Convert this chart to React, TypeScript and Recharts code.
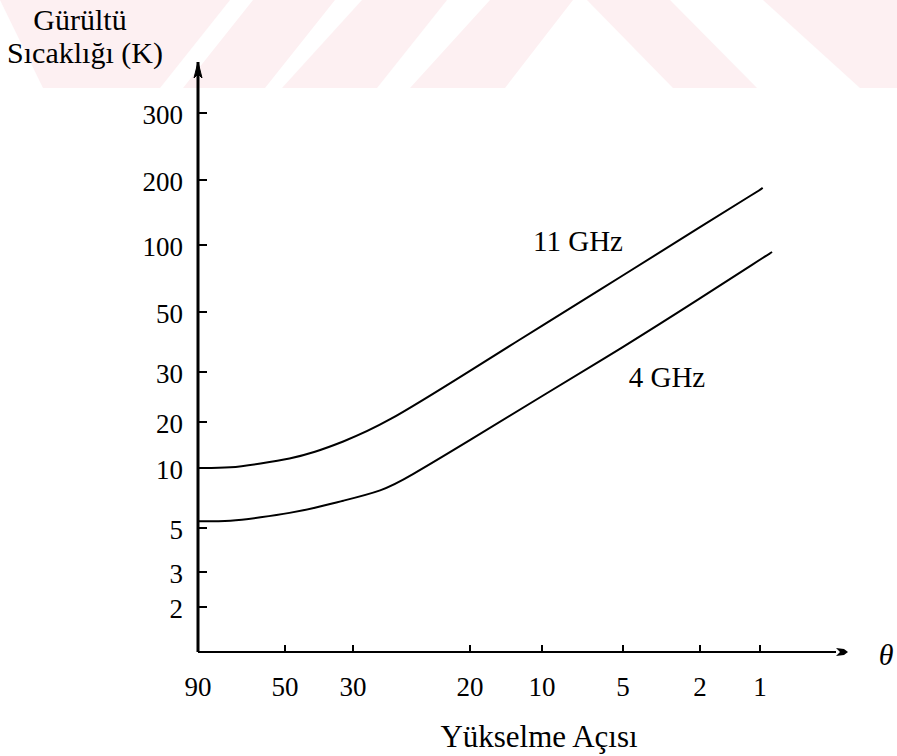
import React from "react";
import {
  LineChart,
  Line,
  XAxis,
  YAxis,
  ReferenceDot,
  Customized,
} from "recharts";

// elevation angle (deg) and noise temperature (K)
const angles11 = [90, 72, 59, 48, 40, 33, 27, 20, 10, 5, 2, 1, 0.97];
const temp11 = [10, 10, 10.7, 11.5, 12.7, 14.6, 19.1, 30.3, 44.5, 73, 121, 180, 184];

const angles4 = [90, 72, 59, 48, 40, 33, 27, 24.9, 20, 10, 5, 2, 1, 0.87];
const temp4 = [5.4, 5.4, 5.65, 5.95, 6.3, 6.8, 7.7, 8.9, 15.2, 24.7, 37, 57.5, 86, 93];

// hand-drawn axes: tick labels and where they sit along each axis (axis units)
const xTickLabels = [90, 50, 30, 20, 10, 5, 2, 1];
const xTickUnits = [0, 87, 155, 272, 344, 425, 502, 562];
const yTickLabels = [2, 3, 5, 10, 20, 30, 50, 100, 200, 300];
const yTickUnits = [45, 80, 124, 184, 230, 280, 340, 407, 472, 539];

const X_MAX = 650;
const Y_MAX = 590;
const FONT = '"Liberation Serif", "DejaVu Serif", serif';

// piecewise log interpolation between labelled ticks (extrapolates past the ends)
function toUnits(v: number, labels: number[], units: number[]) {
  const lv = Math.log10(v);
  let i = 0;
  while (i < labels.length - 2) {
    const a = Math.log10(labels[i]);
    const b = Math.log10(labels[i + 1]);
    if ((lv - a) * (lv - b) <= 0) break;
    i++;
  }
  const a = Math.log10(labels[i]);
  const b = Math.log10(labels[i + 1]);
  const t = (lv - a) / (b - a);
  return units[i] + t * (units[i + 1] - units[i]);
}

const data11 = angles11.map((a, i) => ({
  x: toUnits(a, xTickLabels, xTickUnits),
  y: toUnits(temp11[i], yTickLabels, yTickUnits),
}));
const data4 = angles4.map((a, i) => ({
  x: toUnits(a, xTickLabels, xTickUnits),
  y: toUnits(temp4[i], yTickLabels, yTickUnits),
}));

const YTick = (props: any) => {
  const { x, y, payload } = props;
  const label = yTickLabels[yTickUnits.indexOf(payload.value)];
  return (
    <g>
      <line x1={x} x2={x + 9} y1={y} y2={y} stroke="#000" strokeWidth={2} />
      <text
        x={x - 15}
        y={y + 2}
        textAnchor="end"
        dominantBaseline="central"
        fontSize={27}
        fontFamily={FONT}
        fill="#000"
      >
        {label}
      </text>
    </g>
  );
};

const XTick = (props: any) => {
  const { x, y, payload } = props;
  const label = xTickLabels[xTickUnits.indexOf(payload.value)];
  return (
    <g>
      <line x1={x} x2={x} y1={y} y2={y - 7} stroke="#000" strokeWidth={2} />
      <text
        x={x}
        y={y + 35}
        textAnchor="middle"
        dominantBaseline="central"
        fontSize={27}
        fontFamily={FONT}
        fill="#000"
      >
        {label}
      </text>
    </g>
  );
};

const UpArrow = (p: any) => (
  <path
    d={`M${p.cx},${p.cy} L${p.cx - 4},${p.cy + 16} L${p.cx},${p.cy + 12} L${p.cx + 4},${p.cy + 16} Z`}
    fill="#000"
    stroke="#000"
    strokeWidth={1}
  />
);

const RightArrow = (p: any) => (
  <g>
    <rect x={p.cx - 24} y={p.cy - 2} width={26} height={4} fill="#fff" />
    <line x1={p.cx - 24} x2={p.cx - 12} y1={p.cy} y2={p.cy} stroke="#000" strokeWidth={2} />
    <path
      d={`M${p.cx - 12},${p.cy - 4} L${p.cx - 4},${p.cy - 3} L${p.cx},${p.cy} L${p.cx - 4},${p.cy + 3} L${p.cx - 12},${p.cy + 4} L${p.cx - 8},${p.cy} Z`}
      fill="#000"
    />
  </g>
);

const curveLabel = (text: string) => (p: any) => (
  <text
    x={p.cx}
    y={p.cy}
    textAnchor="middle"
    dominantBaseline="central"
    fontSize={29}
    fontFamily={FONT}
    fill="#000"
  >
    {text}
  </text>
);

const Titles = () => (
  <g fontFamily={FONT} fill="#000">
    <text x={80} y={19} textAnchor="middle" dominantBaseline="central" fontSize={30}>
      Gürültü
    </text>
    <text x={85} y={52} textAnchor="middle" dominantBaseline="central" fontSize={30}>
      Sıcaklığı (K)
    </text>
    <text x={539} y={736} textAnchor="middle" dominantBaseline="central" fontSize={31}>
      Yükselme Açısı
    </text>
    <text x={886} y={654} textAnchor="middle" dominantBaseline="central" fontSize={30} fontStyle="italic">
      θ
    </text>
  </g>
);

// faint pink watermark band at the top of the scan
const watermark = [
  "0,0 230,0 160,88 43,88",
  "253,0 335,0 265,88 183,88",
  "362,0 447,0 377,88 282,88",
  "490,0 573,0 505,88 410,88",
  "587,0 670,0 757,88 673,88",
  "763,0 897,0 897,88 860,88",
];

export default function App() {
  return (
    <div style={{ position: "absolute", left: 0, top: 0, width: 897, height: 756, background: "#fff" }}>
      <svg width={897} height={756} style={{ position: "absolute", left: 0, top: 0 }}>
        {watermark.map((pts, i) => (
          <polygon key={i} points={pts} fill="#fdf0f2" />
        ))}
      </svg>
      <div style={{ position: "absolute", left: 0, top: 0 }}>
        <LineChart
          width={897}
          height={756}
          margin={{ top: 62, right: 49, bottom: 64, left: 138 }}
          style={{ fontFamily: FONT }}
        >
          <XAxis
            type="number"
            dataKey="x"
            domain={[0, X_MAX]}
            allowDataOverflow
            ticks={xTickUnits}
            interval={0}
            height={40}
            tickSize={0}
            tickMargin={0}
            tickLine={false}
            tick={<XTick />}
            axisLine={{ stroke: "#000", strokeWidth: 2 }}
          />
          <YAxis
            type="number"
            dataKey="y"
            domain={[0, Y_MAX]}
            allowDataOverflow
            ticks={yTickUnits}
            interval={0}
            width={60}
            tickSize={0}
            tickMargin={0}
            tickLine={false}
            tick={<YTick />}
            axisLine={{ stroke: "#000", strokeWidth: 3 }}
          />
          <Line
            data={data11}
            dataKey="y"
            type="basis"
            stroke="#000"
            strokeWidth={2}
            dot={false}
            isAnimationActive={false}
          />
          <Line
            data={data4}
            dataKey="y"
            type="basis"
            stroke="#000"
            strokeWidth={2}
            dot={false}
            isAnimationActive={false}
          />
          <ReferenceDot x={380} y={411} r={0} ifOverflow="visible" shape={curveLabel("11 GHz")} />
          <ReferenceDot x={469} y={275} r={0} ifOverflow="visible" shape={curveLabel("4 GHz")} />
          <ReferenceDot x={0} y={Y_MAX} r={0} ifOverflow="visible" shape={UpArrow} />
          <ReferenceDot x={X_MAX} y={0} r={0} ifOverflow="visible" shape={RightArrow} />
          <Customized component={Titles} />
        </LineChart>
      </div>
    </div>
  );
}
